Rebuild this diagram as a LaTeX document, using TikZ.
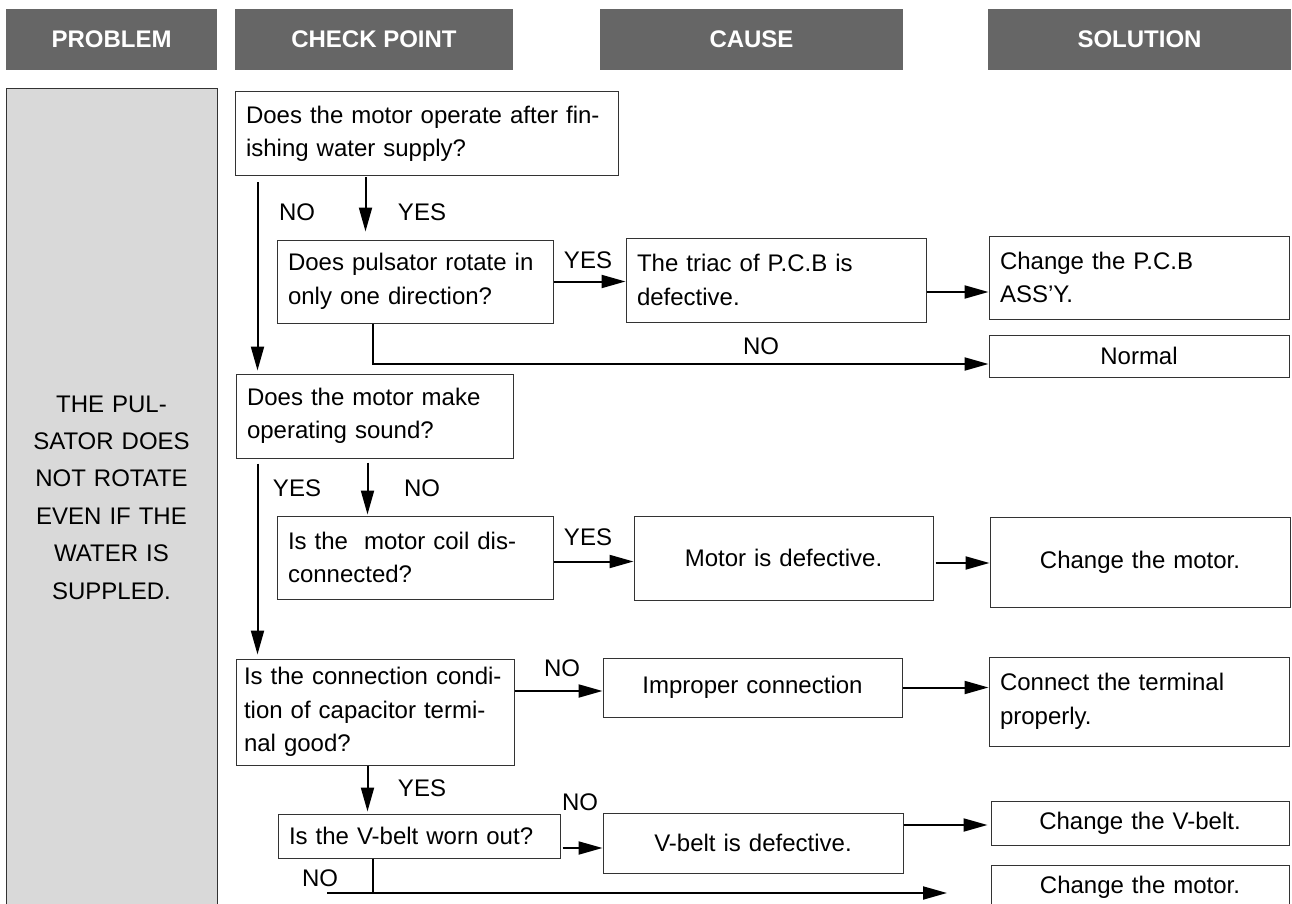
\documentclass[tikz,border=0pt]{standalone}
\usepackage{fontspec}
\setmainfont{Liberation Sans}
\usetikzlibrary{arrows.meta}
\newcommand{\tsHead}{black!60}
\newcommand{\tsProbFill}{black!15}
\newcommand{\tsLine}{black!80}
\newcommand{\tsFont}{\fontsize{24}{33.5}\selectfont}
\newcommand{\tsProbFont}{\fontsize{24}{37.4}\selectfont}
\newcommand{\tsHeadFont}{\fontsize{24}{28}\selectfont\bfseries}
\tikzset{
  tshead/.style={fill=\tsHead, text=white, font=\tsHeadFont, minimum height=61pt, inner sep=0pt},
  tsprob/.style={draw=\tsLine, fill=\tsProbFill, line width=1pt, font=\tsProbFont,
                 align=center, inner sep=0pt},
  tsbox/.style={draw=\tsLine, line width=1pt, font=\tsFont, align=left,
                inner xsep=11pt, inner ysep=0pt},
  tscbox/.style={tsbox, align=center},
  tslab/.style={font=\tsFont, inner sep=0pt},
  tsline/.style={line width=2pt},
  tsarr/.style={tsline, -{Triangle[length=24pt,width=13pt]}},
}

\begin{document}
\begin{tikzpicture}[x=1pt, y=-1pt]
  \useasboundingbox (0,0) rectangle (1292,904);
  % column heads
  \node[tshead, minimum width=211pt] (hProb) at (111.5,39.5) {PROBLEM};
  \node[tshead, minimum width=278pt] (hCheck) at (374,39.5) {CHECK POINT};
  \node[tshead, minimum width=303pt] (hCause) at (751.5,39.5) {CAUSE};
  \node[tshead, minimum width=303pt] (hSol) at (1139.5,39.5) {SOLUTION};
  \node[tsprob, minimum width=211pt, minimum height=817pt, text width=190pt] (prob) at (111.5,497.5)
    {THE PUL-\\SATOR DOES\\NOT ROTATE\\EVEN IF THE\\WATER IS\\SUPPLED.};

  % check points
  \node[tsbox, text width=361pt, minimum height=84pt] (q1) at (426.5,134) {Does the motor operate after fin-\\ishing water supply?};
  \node[tsbox, text width=254pt, minimum height=83pt] (q2) at (415,281.5) {Does pulsator rotate in\\only one direction?};
  \node[tsbox, text width=255pt, minimum height=84pt] (q3) at (374.5,416) {Does the motor make\\operating sound?};
  \node[tsbox, text width=254pt, minimum height=83pt] (q4) at (415,557.5) {Is the~ motor coil dis-\\connected?};
  \node[tsbox, inner xsep=8pt, text width=262pt, minimum height=106pt] (q5) at (375,712) {Is the connection condi-\\tion of capacitor termi-\\nal good?};
  \node[tsbox, text width=260pt, minimum height=44pt] (q6) at (419,836) {Is the V-belt worn out?};

  % causes
  \node[tsbox, text width=278pt, minimum height=84pt] (c1) at (776,280) {The triac of P.C.B is\\defective.};
  \node[tscbox, text width=277pt, minimum height=84pt] (c2) at (783.5,558) {Motor is defective.};
  \node[tscbox, text width=277pt, minimum height=59pt] (c3) at (752.5,687.5) {Improper connection};
  \node[tscbox, text width=278pt, minimum height=60pt] (c4) at (753,843) {V-belt is defective.};

  % solutions
  \node[tsbox, text width=278pt, minimum height=83pt] (s1) at (1139,277.5) {Change the P.C.B\\ASS'Y.};
  \node[tscbox, text width=278pt, minimum height=42pt] (s2) at (1139,356) {Normal};
  \node[tscbox, text width=278pt, minimum height=90pt] (s3) at (1140,562) {Change the motor.};
  \node[tsbox, text width=278pt, minimum height=89pt] (s4) at (1139,701.5) {Connect the terminal\\properly.};
  \node[tscbox, text width=276pt, minimum height=44pt] (s5) at (1140,823) {Change the V-belt.};
  \node[tscbox, text width=276pt, minimum height=45pt] (s6) at (1140,887.5) {Change the motor.};

  % answers
  \node[tslab] (lNo1) at (297,212) {NO};
  \node[tslab] (lYes1) at (422,212) {YES};
  \node[tslab] (lYes2) at (588,260) {YES};
  \node[tslab] (lNo2) at (761,346) {NO};
  \node[tslab] (lYes3) at (297,488) {YES};
  \node[tslab] (lNo3) at (422,488) {NO};
  \node[tslab] (lYes4) at (588,537) {YES};
  \node[tslab] (lNo4) at (562,668) {NO};
  \node[tslab] (lYes5) at (422,788) {YES};
  \node[tslab] (lNo5) at (580,802) {NO};
  \node[tslab] (lNo6) at (320,878) {NO};

  % connectors
  \draw[tsarr] ([xshift=23pt,yshift=-6pt]q1.south west) -- ([xshift=22pt,yshift=3pt]q3.north west);
  \draw[tsarr] ([xshift=131pt,yshift=-1pt]q1.south west) -- ([xshift=89pt,yshift=8pt]q2.north west);
  \draw[tsarr] (q2.east) -- (q2.east -| c1.west);
  \draw[tsarr] ([yshift=-12pt]c1.east) -- ([yshift=-12pt]c1.east -| s1.west);
  \draw[tsarr] ([xshift=96pt]q2.south west) |- ([yshift=-8pt]s2.west);
  \draw[tsarr] ([xshift=22pt,yshift=-5pt]q3.south west) -- ([xshift=22pt,yshift=4pt]q5.north west);
  \draw[tsarr] ([xshift=132pt,yshift=-4pt]q3.south west) -- ([xshift=91pt,yshift=1pt]q4.north west);
  \draw[tsarr] ([yshift=-4pt]q4.east) -- ([yshift=-4pt]q4.east -| c2.west);
  \draw[tsarr] ([xshift=2pt,yshift=-5pt]c2.east) -- ([yshift=-5pt]c2.east -| s3.west);
  \draw[tsarr] ([yshift=21pt]q5.east) -- ([yshift=21pt]q5.east -| c3.west);
  \draw[tsarr] (c3.east) -- (c3.east -| s4.west);
  \draw[tsarr] ([xshift=132pt]q5.south west) -- ([xshift=90pt,yshift=2pt]q6.north west);
  \draw[tsarr] ([xshift=2pt,yshift=-12pt]q6.east) -- ([yshift=-12pt]q6.east -| c4.west);
  \draw[tsarr, shorten >=3pt] ([yshift=18pt]c4.east) -- ([yshift=18pt]c4.east -| s5.west);
  \coordinate (noL) at (327,893);
  \coordinate (noR) at (947,893);
  \draw[tsline] ([xshift=95pt]q6.south west) -- ([xshift=95pt]q6.south west |- noL);
  \draw[tsarr] (noL) -- (noR);
\end{tikzpicture}
\end{document}
